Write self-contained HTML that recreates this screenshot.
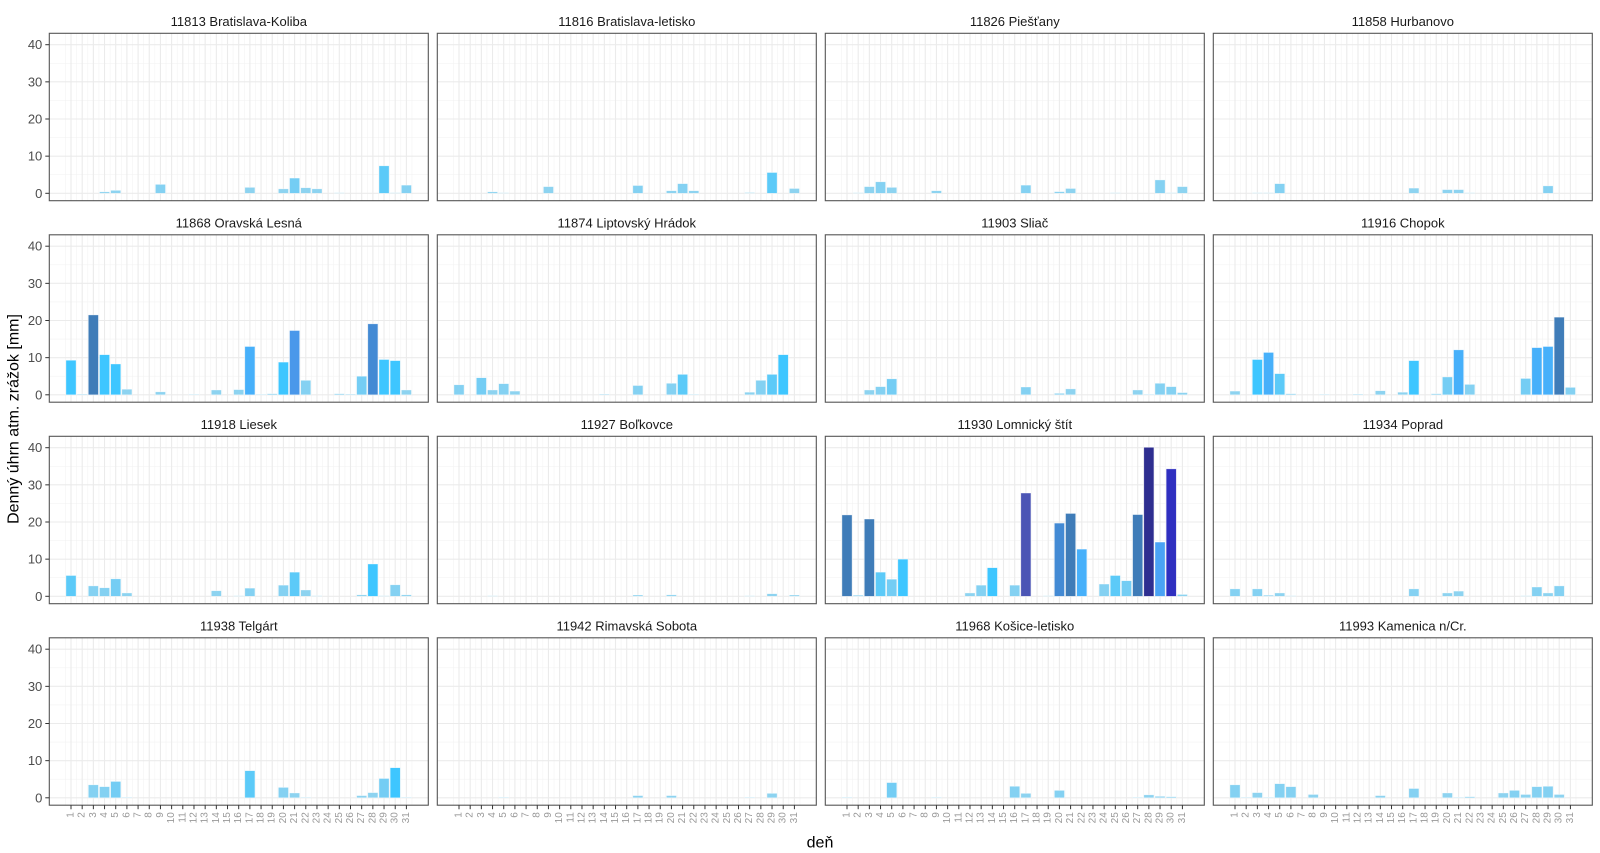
<!DOCTYPE html>
<html><head><meta charset="utf-8">
<style>
html,body{margin:0;padding:0;background:#fff;}
svg{display:block;font-family:"Liberation Sans",Arial,sans-serif;}
</style></head>
<body>
<svg id="c" width="1600" height="853" viewBox="0 0 1600 853" xmlns="http://www.w3.org/2000/svg">
<text x="14" y="419" transform="rotate(-90 14 419)" text-anchor="middle" dominant-baseline="central" font-size="16" fill="#000">Denný úhrn atm. zrážok [mm]</text>
<text x="820" y="843" text-anchor="middle" dominant-baseline="central" font-size="16" fill="#000">deň</text>
</svg>
<script>
var P=[
["11813 Bratislava-Koliba",{4:.4,5:.8,9:2.4,17:1.6,20:1.2,21:4.1,22:1.5,23:1.2,25:.1,29:7.4,30:.1,31:2.2}],
["11816 Bratislava-letisko",{4:.4,5:.1,9:1.8,17:2.1,20:.7,21:2.6,22:.7,27:.2,29:5.6,31:1.3}],
["11826 Piešťany",{2:.1,3:1.8,4:3.1,5:1.6,9:.7,17:2.2,20:.45,21:1.3,25:.1,29:3.6,30:.1,31:1.8}],
["11858 Hurbanovo",{3:.1,4:.1,5:2.6,17:1.4,20:1,21:1,22:.1,29:2}],
["11868 Oravská Lesná",{1:9.3,2:.2,3:21.5,4:10.8,5:8.3,6:1.5,9:.8,12:.1,14:1.3,16:1.4,17:13,18:.1,19:.3,20:8.8,21:17.3,22:3.9,25:.3,26:.2,27:5,28:19.1,29:9.5,30:9.2,31:1.3}],
["11874 Liptovský Hrádok",{1:2.7,3:4.6,4:1.3,5:3,6:1,14:.2,17:2.5,20:3.1,21:5.5,22:.1,27:.7,28:3.9,29:5.5,30:10.8}],
["11903 Sliač",{3:1.3,4:2.2,5:4.3,17:2.1,20:.4,21:1.6,27:1.3,28:.1,29:3.1,30:2.2,31:.6}],
["11916 Chopok",{1:1,3:9.5,4:11.4,5:5.7,6:.3,9:.1,12:.2,14:1.1,16:.7,17:9.2,19:.3,20:4.8,21:12.1,22:2.8,27:4.4,28:12.7,29:13,30:20.9,31:2}],
["11918 Liesek",{1:5.6,3:2.8,4:2.3,5:4.7,6:.9,14:1.5,16:.1,17:2.2,20:3,21:6.5,22:1.7,23:.1,27:.4,28:8.7,29:.1,30:3.1,31:.4}],
["11927 Boľkovce",{4:.1,17:.35,20:.4,27:.1,29:.7,31:.35}],
["11930 Lomnický štít",{1:21.9,2:.3,3:20.8,4:6.5,5:4.6,6:10,12:.9,13:3,14:7.7,16:3,17:27.8,19:.1,20:19.7,21:22.3,22:12.7,24:3.3,25:5.6,26:4.2,27:22,28:40.1,29:14.6,30:34.3,31:.5}],
["11934 Poprad",{1:2,3:2,4:.3,5:.9,6:.1,17:2,20:.9,21:1.4,27:.1,28:2.5,29:.9,30:2.8}],
["11938 Telgárt",{3:3.5,4:3,5:4.4,6:.1,17:7.3,20:2.8,21:1.3,22:.1,27:.6,28:1.4,29:5.2,30:8.1,31:.1}],
["11942 Rimavská Sobota",{5:.1,17:.6,20:.6,27:.1,29:1.2}],
["11968 Košice-letisko",{1:.1,5:4.1,9:.1,16:3.1,17:1.2,20:2,27:.1,28:.8,29:.4,30:.3}],
["11993 Kamenica n/Cr.",{1:3.5,2:.1,3:1.4,4:.1,5:3.8,6:3,8:.9,14:.6,17:2.5,20:1.3,21:.1,22:.3,25:1.3,26:2,27:.9,28:3,29:3.1,30:.9}]
];
function col(v){
 if(v<2)return"#8dd3f0";if(v<4)return"#84d1f2";if(v<5.5)return"#74cdf4";if(v<7.5)return"#5ccaf8";
 if(v<11)return"#3ec6ff";if(v<13.5)return"#47b0fa";if(v<16)return"#4aa3f5";if(v<18)return"#4a98ea";
 if(v<20.5)return"#438ad4";if(v<24)return"#3f7cb8";if(v<30)return"#4b55b5";if(v<36)return"#2f2fc0";return"#2e2e90";}
var s='';
var W=379,H=167.4,K=3.715,DX=11.18;
for(var i=0;i<16;i++){
 var r=Math.floor(i/4),c=i%4,L=49.3+388*c,T=33.3+201.5*r,Z=T+160,B=T+H;
 s+='<rect x="'+L+'" y="'+T+'" width="'+W+'" height="'+H+'" fill="#fff"/>';
 // minor grid
 for(var m=5;m<=35;m+=10){var y=Z-m*K;s+='<line x1="'+L+'" x2="'+(L+W)+'" y1="'+y+'" y2="'+y+'" stroke="#f3f3f3" stroke-width="0.6"/>';}
 for(var d=0.5;d<=32;d+=1){var x=L+21.7+(d-1)*DX;if(x>L&&x<L+W)s+='<line x1="'+x+'" x2="'+x+'" y1="'+T+'" y2="'+B+'" stroke="#f3f3f3" stroke-width="0.6"/>';}
 for(var m=0;m<=40;m+=10){var y=Z-m*K;s+='<line x1="'+L+'" x2="'+(L+W)+'" y1="'+y+'" y2="'+y+'" stroke="#ebebeb" stroke-width="1.1"/>';}
 for(var d=1;d<=31;d++){var x=L+21.7+(d-1)*DX;s+='<line x1="'+x+'" x2="'+x+'" y1="'+T+'" y2="'+B+'" stroke="#ebebeb" stroke-width="1.1"/>';}
 var dat=P[i][1];
 for(var k in dat){var v=dat[k],x=L+21.7+(k-1)*DX-5.05,h=Math.max(v*K,0.6);
  s+='<rect x="'+x.toFixed(2)+'" y="'+(Z-h).toFixed(2)+'" width="10.1" height="'+h.toFixed(2)+'" fill="'+col(v)+'" stroke="#fff" stroke-opacity="0.6" stroke-width="0.6"/>';}
 s+='<rect x="'+L+'" y="'+T+'" width="'+W+'" height="'+H+'" fill="none" stroke="#555" stroke-width="1.1"/>';
 s+='<text x="'+(L+W/2)+'" y="'+(T-12)+'" text-anchor="middle" dominant-baseline="central" font-size="13" fill="#1a1a1a">'+P[i][0]+'</text>';
 if(c==0){for(var m=0;m<=40;m+=10){var y=Z-m*K;
  s+='<line x1="'+(L-4)+'" x2="'+L+'" y1="'+y+'" y2="'+y+'" stroke="#333" stroke-width="1"/>';
  s+='<text x="'+(L-7)+'" y="'+y+'" text-anchor="end" dominant-baseline="central" font-size="13" fill="#4d4d4d">'+m+'</text>';}}
 if(r==3){for(var d=1;d<=31;d++){var x=L+21.7+(d-1)*DX;
  s+='<line x1="'+x+'" x2="'+x+'" y1="'+B+'" y2="'+(B+4)+'" stroke="#333" stroke-width="1"/>';
  s+='<text x="'+x+'" y="'+(B+7)+'" transform="rotate(-90 '+x+' '+(B+7)+')" text-anchor="end" dominant-baseline="central" font-size="10" fill="#999">'+d+'</text>';}}
}
document.getElementById('c').insertAdjacentHTML('beforeend',s);
</script>
</body></html>
